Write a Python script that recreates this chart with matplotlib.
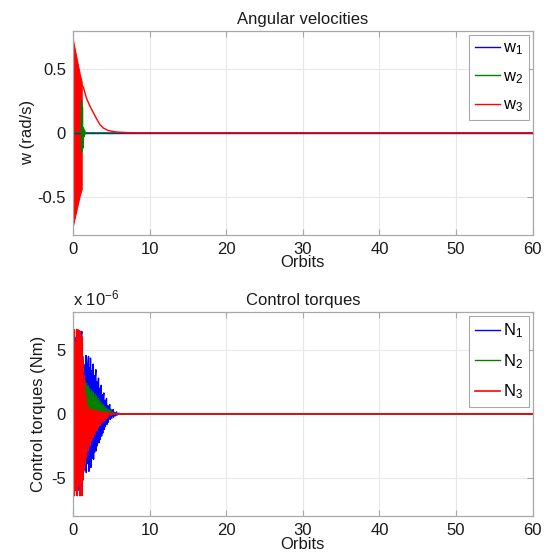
import matplotlib
matplotlib.use("Agg")
import matplotlib.pyplot as plt
from matplotlib.ticker import FuncFormatter

plt.rcParams['font.family'] = ['Liberation Sans', 'DejaVu Sans']
plt.rcParams['mathtext.fontset'] = 'custom'
plt.rcParams['mathtext.rm'] = 'Liberation Sans'
plt.rcParams['mathtext.it'] = 'Liberation Sans'

# ---------------- Angular velocities (rad/s) ----------------
# w3: dense oscillation envelope (fill) then smooth decay
w3_env_t = [0.0, 0.3, 0.6, 0.9, 1.15]
w3_env_hi = [0.73, 0.64, 0.55, 0.46, 0.40]
w3_env_lo = [-0.73, -0.65, -0.57, -0.49, -0.44]
w3_t = [1.15, 1.2, 1.35, 1.5, 1.78, 2.22, 2.65, 3.09, 3.52, 3.96, 4.6, 5.7, 7.0, 8.5, 60.0]
w3_v = [0.38, 0.37, 0.36, 0.33, 0.27, 0.21, 0.16, 0.11, 0.065, 0.038, 0.018, 0.006, 0.002, 0.0, 0.0]
w2_t = [0.0, 1.1, 1.15, 1.2, 1.25, 1.3, 1.38, 1.45, 1.52, 1.6, 1.7, 60.0]
w2_v = [0.0, 0.0, 0.25, -0.15, 0.2, -0.12, 0.04, -0.03, 0.02, -0.01, 0.0, 0.0]
w1_t = [0.0, 60.0]
w1_v = [0.0, 0.0]

# ---------------- Control torques (x 1e-6 Nm) ----------------
N1_t = [0.0, 0.1, 0.2, 0.3, 0.4, 0.5, 0.6, 0.7, 0.8, 0.9, 1.0, 1.1,
        1.17, 1.22, 1.28, 1.34, 1.42, 1.50, 1.58, 1.64, 1.70, 1.75, 1.82, 1.88, 1.96,
        2.04, 2.09, 2.16, 2.22, 2.30, 2.35, 2.42, 2.49, 2.57, 2.65, 2.70, 2.77, 2.84, 2.92,
        3.00, 3.05, 3.12, 3.19, 3.27, 3.35, 3.40, 3.48, 3.55, 3.62, 3.70, 3.75, 3.83, 3.90, 3.97,
        4.04, 4.09, 4.17, 4.24, 4.31, 4.39, 4.44, 4.54, 4.63, 4.72, 4.82, 4.87, 4.98, 5.08, 5.18,
        5.26, 5.31, 5.45, 5.55, 5.70, 5.75, 6.0, 6.3, 6.6, 60.0]
N1_v = [0.0, 6.0, -6.0, 6.0, -6.0, 6.0, -6.0, 6.0, -6.0, 6.0, -6.0, 6.2,
        6.45, -5.9, 4.5, -4.6, 3.9, -4.0, 3.7, -4.4, 4.58, -4.6, 3.8, -3.9, 3.9,
        4.5, -4.5, 3.6, -3.8, 4.375, -4.2, 3.4, -3.5, 3.2, 3.9, -3.57, 3.0, -3.0, 2.8,
        3.46, -2.9, 2.5, -2.5, 2.3, 2.8, -2.27, 2.0, -2.0, 1.8, 2.24, -1.74, 1.5, -1.5, 1.3,
        1.64, -1.22, 1.05, -1.0, 0.95, 1.2, -0.83, 0.65, -0.65, 0.55, 0.73, -0.44, 0.35, -0.35, 0.25,
        0.34, -0.26, 0.12, -0.15, 0.16, -0.1, 0.05, -0.03, 0.0, 0.0]

N2_t = [0.0, 0.1, 0.2, 0.3, 0.4, 0.5, 0.6, 0.7, 0.8, 0.9, 1.0, 1.05, 1.12, 1.18, 1.24,
        1.30, 1.36, 1.42, 1.50, 1.60, 1.70, 1.80, 1.90, 2.00, 2.10, 2.20, 2.32, 2.44, 2.55,
        2.65, 2.78, 2.90, 3.00, 3.10, 3.22, 3.34, 3.45, 3.55, 3.66, 3.76, 3.86, 3.96, 4.08,
        4.20, 4.30, 4.40, 4.52, 4.64, 4.74, 4.85, 5.0, 5.15, 5.3, 5.5, 5.8, 60.0]
N2_v = [0.0, 5.5, -5.5, 5.5, -5.5, 5.5, -5.5, 5.5, -5.5, 5.0, -5.2, 4.6, -5.0, 3.8, -2.0,
        3.2, -0.8, 2.8, -0.3, 2.6, -0.2, 2.4, -0.1, 2.2, 0.0, 2.0, 0.0, 1.85, 0.05,
        1.7, 0.05, 1.55, 0.05, 1.4, 0.05, 1.2, 0.05, 1.0, 0.03, 0.85, 0.03, 0.7, 0.02,
        0.55, 0.02, 0.45, 0.02, 0.35, 0.01, 0.28, 0.0, 0.15, 0.0, 0.06, 0.0, 0.0]

N3_t = [0.00, 0.04, 0.09, 0.13, 0.18, 0.24, 0.30, 0.36, 0.42, 0.50, 0.56, 0.62, 0.68,
        0.74, 0.80, 0.86, 0.92, 0.98, 1.04, 1.10, 1.17, 1.22, 1.28, 1.34, 1.40, 1.48,
        1.56, 1.66, 1.78, 1.90, 2.00, 2.12, 2.22, 2.33, 2.43, 2.55, 2.65, 2.76, 2.87,
        3.00, 3.10, 3.20, 3.30, 3.42, 3.52, 3.63, 3.74, 3.85, 3.96, 4.07, 4.17, 4.30,
        4.40, 4.50, 4.60, 4.80, 4.95, 5.10, 5.26, 5.50, 5.80, 6.20, 60.0]
N3_v = [0.0, 6.5, -6.3, 6.6, -6.4, 5.6, -5.5, 5.5, -6.0, 6.6, -6.4, 6.6, -5.6,
        5.4, -5.5, 6.5, -6.4, 6.4, -5.6, 5.8, -6.4, 6.0, -5.2, 4.2, -4.5, 3.0,
        -3.96, 1.5, -3.4, 0.6, -2.9, 0.4, -2.5, 0.35, -2.1, 0.3, -1.85, 0.3, -1.6,
        0.25, -1.3, 0.2, -1.1, 0.2, -0.9, 0.15, -0.7, 0.12, -0.6, 0.1, -0.5, 0.1,
        -0.35, 0.08, -0.2, 0.06, -0.12, 0.05, -0.06, 0.03, -0.02, 0.0, 0.0]

x_ticks = [0, 10, 20, 30, 40, 50, 60]
COL = {'1': '#0000ff', '2': '#008000', '3': '#ff0000'}
SPINE = '#a8a8a8'
TXT = '#1a1a1a'
FS = 12

fig = plt.figure(figsize=(5.52, 5.58), dpi=100)
ax1 = fig.add_axes([0.132, 0.579, 0.833, 0.366])
ax2 = fig.add_axes([0.132, 0.0753, 0.833, 0.366])


def style(ax):
    ax.set_xlim(0, 60)
    ax.set_xticks(x_ticks)
    ax.grid(True, color='#e8e8e8', linewidth=0.8)
    ax.set_axisbelow(True)
    for s in ax.spines.values():
        s.set_color(SPINE)
        s.set_linewidth(0.9)
    ax.tick_params(direction='in', length=4, width=0.8, color=SPINE,
                   top=True, right=True, labelsize=FS, labelcolor=TXT, pad=5)
    ax.set_xlabel('Orbits', fontsize=FS, labelpad=-1, color=TXT)


# top plot
ax1.plot(w1_t, w1_v, color=COL['1'], lw=1.0, label=r'w$_1$')
ax1.plot(w2_t, w2_v, color=COL['2'], lw=1.0, label=r'w$_2$')
ax1.fill_between(w3_env_t, w3_env_lo, w3_env_hi, color=COL['3'], lw=0.8,
                 edgecolor=COL['3'])
ax1.plot(w3_t, w3_v, color=COL['3'], lw=1.0, label=r'w$_3$')
ax1.set_ylim(-0.8, 0.8)
ax1.set_yticks([-0.5, 0, 0.5])
ax1.yaxis.set_major_formatter(FuncFormatter(lambda v, p: f'{v:g}'))
style(ax1)
ax1.set_title('Angular velocities', fontsize=FS, color=TXT, pad=5)
ax1.set_ylabel('w (rad/s)', fontsize=FS, color=TXT, labelpad=2)

# bottom plot
ax2.plot(N1_t, [v * 1e-6 for v in N1_v], color=COL['1'], lw=1.0, label=r'N$_1$')
ax2.plot(N2_t, [v * 1e-6 for v in N2_v], color=COL['2'], lw=1.0, label=r'N$_2$')
ax2.plot(N3_t, [v * 1e-6 for v in N3_v], color=COL['3'], lw=1.2, label=r'N$_3$')
ax2.set_ylim(-8e-6, 8e-6)
ax2.set_yticks([-5e-6, 0, 5e-6])
ax2.yaxis.set_major_formatter(FuncFormatter(lambda v, p: f'{round(v * 1e6):d}'))
style(ax2)
ax2.set_title('Control torques', fontsize=FS, color=TXT, pad=5)
ax2.set_ylabel('Control torques (Nm)', fontsize=FS, color=TXT, labelpad=4)
ax2.text(0.0, 1.015, r'x 10$^{-6}$', transform=ax2.transAxes, fontsize=FS,
         color=TXT, ha='left', va='bottom')

for ax in (ax1, ax2):
    leg = ax.legend(loc='upper right', fontsize=FS, handlelength=1.5,
                    handletextpad=0.15, borderpad=0.35, labelspacing=0.7,
                    fancybox=False, framealpha=1, borderaxespad=0.25)
    leg.get_frame().set_edgecolor(SPINE)
    leg.get_frame().set_linewidth(0.8)

fig.savefig('out.png', dpi=100)
